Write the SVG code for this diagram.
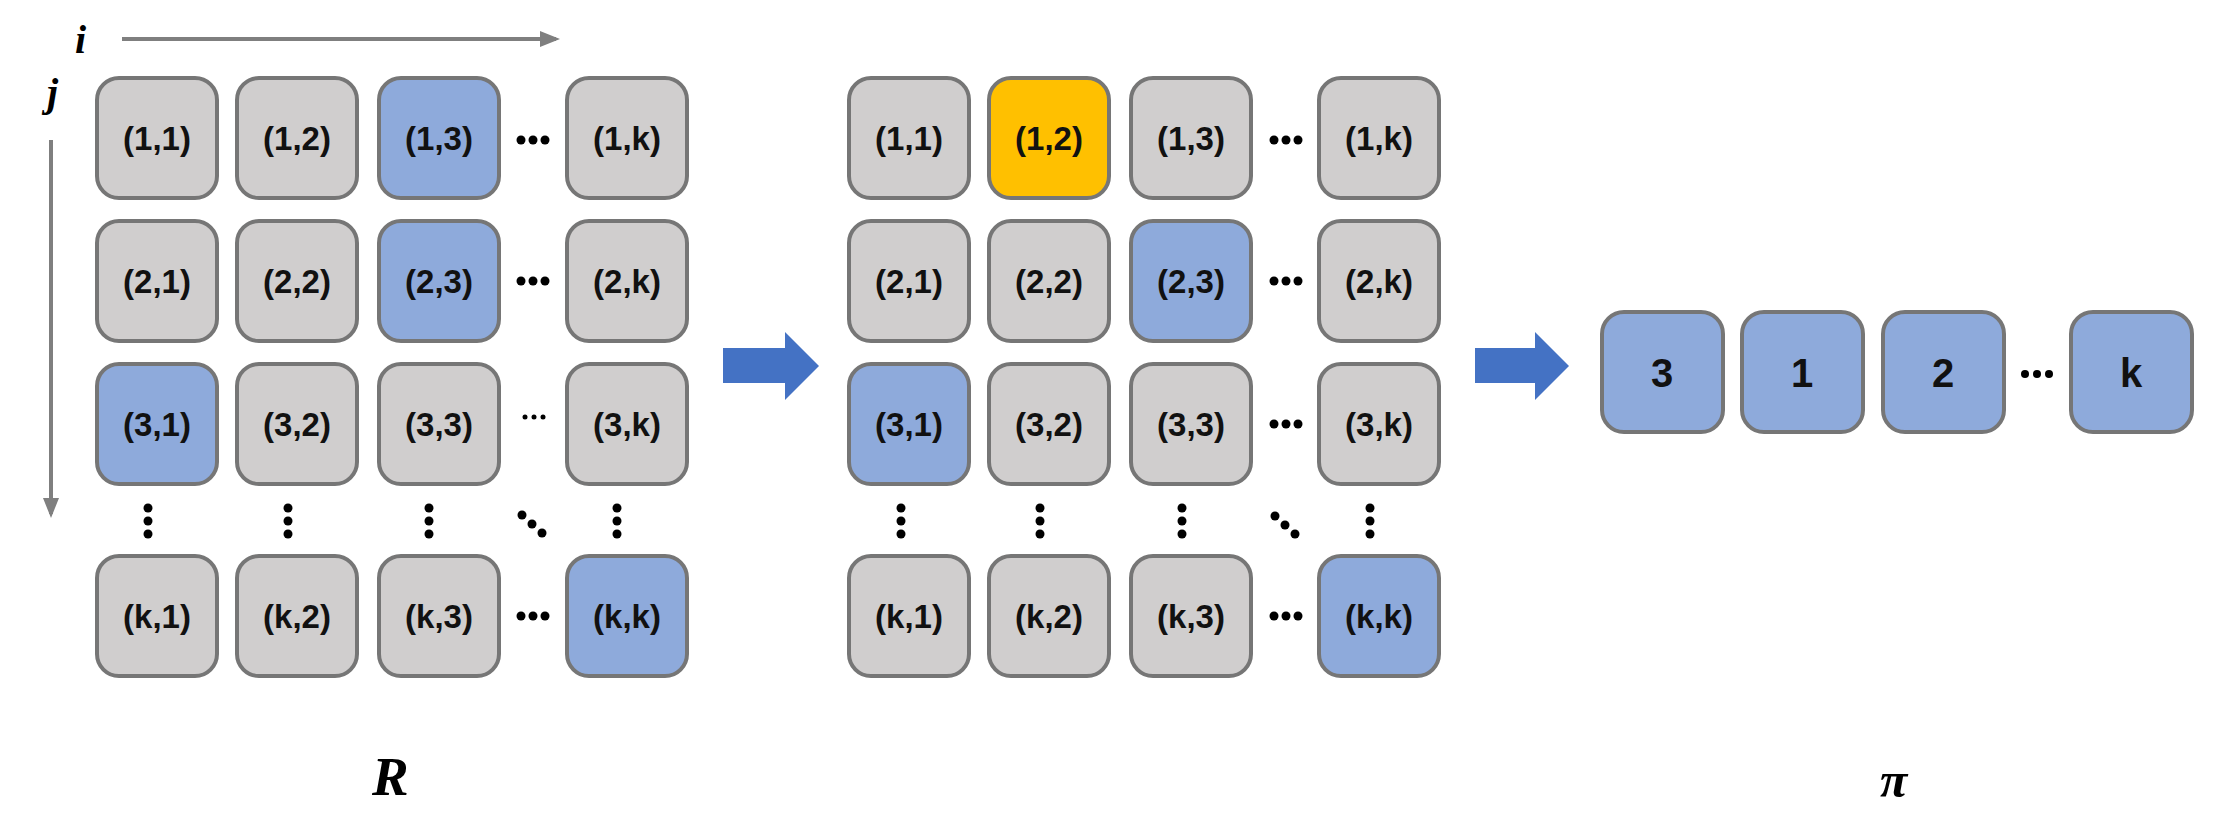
<svg xmlns="http://www.w3.org/2000/svg" width="2222" height="816" viewBox="0 0 2222 816">
<style>
.b{stroke:#767676;stroke-width:4}
.g{fill:#d0cece}
.u{fill:#8eaadb}
.y{fill:#ffc000}
.t{font-family:"Liberation Sans",Arial,sans-serif;font-weight:bold;font-size:33px;fill:#111;text-anchor:middle}
.n{font-family:"Liberation Sans",Arial,sans-serif;font-weight:bold;font-size:40px;fill:#111;text-anchor:middle}
.m{font-family:"Liberation Serif","Times New Roman",serif;font-weight:bold;font-style:italic;fill:#000}
.ax{stroke:#7f7f7f;stroke-width:4;fill:none}
.d{fill:#000}
.bl{fill:#4472c4}
</style>
<defs>
<marker id="ah" markerWidth="5" markerHeight="4" refX="4" refY="2" orient="auto" markerUnits="strokeWidth"><path d="M0,0 L5,2 L0,4 Z" fill="#7f7f7f"/></marker>
<symbol id="dh" overflow="visible"><circle cx="-12" cy="0" r="4.5"/><circle cx="0" cy="0" r="4.5"/><circle cx="12" cy="0" r="4.5"/></symbol>
<symbol id="dv" overflow="visible"><circle cx="0" cy="-13" r="4.5"/><circle cx="0" cy="0" r="4.5"/><circle cx="0" cy="13" r="4.5"/></symbol>
<symbol id="dd" overflow="visible"><circle cx="-10" cy="-9" r="4.5"/><circle cx="0" cy="0" r="4.5"/><circle cx="10" cy="9" r="4.5"/></symbol>
</defs>
<rect width="2222" height="816" fill="#fff"/>

<g id="connectors">
<line class="ax" x1="122" y1="39" x2="556" y2="39" marker-end="url(#ah)"/>
<line class="ax" x1="51" y1="140" x2="51" y2="514" marker-end="url(#ah)"/>
<path class="bl" d="M723,348 H785 V332 L819,366 L785,400 V383 H723 Z"/>
<path class="bl" d="M1475,348 H1535 V332 L1569,366 L1535,400 V383 H1475 Z"/>
</g>

<g id="labels">
<text class="m" x="75" y="53" font-size="40">i</text>
<text class="m" x="47" y="106" font-size="40">j</text>
<text class="m" x="372" y="795" font-size="55">R</text>
<text class="m" x="1880" y="797" font-size="50">π</text>
</g>

<g id="matrixR">
<g id="R11"><rect class="b g" x="97" y="78" width="120" height="120" rx="22"/><text class="t" x="157" y="150">(1,1)</text></g>
<g id="R12"><rect class="b g" x="237" y="78" width="120" height="120" rx="22"/><text class="t" x="297" y="150">(1,2)</text></g>
<g id="R13"><rect class="b u" x="379" y="78" width="120" height="120" rx="22"/><text class="t" x="439" y="150">(1,3)</text></g>
<g id="R1k"><rect class="b g" x="567" y="78" width="120" height="120" rx="22"/><text class="t" x="627" y="150">(1,k)</text></g>
<g id="R21"><rect class="b g" x="97" y="221" width="120" height="120" rx="22"/><text class="t" x="157" y="293">(2,1)</text></g>
<g id="R22"><rect class="b g" x="237" y="221" width="120" height="120" rx="22"/><text class="t" x="297" y="293">(2,2)</text></g>
<g id="R23"><rect class="b u" x="379" y="221" width="120" height="120" rx="22"/><text class="t" x="439" y="293">(2,3)</text></g>
<g id="R2k"><rect class="b g" x="567" y="221" width="120" height="120" rx="22"/><text class="t" x="627" y="293">(2,k)</text></g>
<g id="R31"><rect class="b u" x="97" y="364" width="120" height="120" rx="22"/><text class="t" x="157" y="436">(3,1)</text></g>
<g id="R32"><rect class="b g" x="237" y="364" width="120" height="120" rx="22"/><text class="t" x="297" y="436">(3,2)</text></g>
<g id="R33"><rect class="b g" x="379" y="364" width="120" height="120" rx="22"/><text class="t" x="439" y="436">(3,3)</text></g>
<g id="R3k"><rect class="b g" x="567" y="364" width="120" height="120" rx="22"/><text class="t" x="627" y="436">(3,k)</text></g>
<g id="Rk1"><rect class="b g" x="97" y="556" width="120" height="120" rx="22"/><text class="t" x="157" y="628">(k,1)</text></g>
<g id="Rk2"><rect class="b g" x="237" y="556" width="120" height="120" rx="22"/><text class="t" x="297" y="628">(k,2)</text></g>
<g id="Rk3"><rect class="b g" x="379" y="556" width="120" height="120" rx="22"/><text class="t" x="439" y="628">(k,3)</text></g>
<g id="Rkk"><rect class="b u" x="567" y="556" width="120" height="120" rx="22"/><text class="t" x="627" y="628">(k,k)</text></g>
<g id="Rdots" class="d">
<use href="#dh" x="533" y="140"/>
<use href="#dh" x="533" y="281"/>
<circle cx="525" cy="417" r="2.5"/><circle cx="534" cy="417" r="2.5"/><circle cx="543" cy="417" r="2.5"/>
<use href="#dh" x="533" y="616"/>
<use href="#dv" x="148" y="521"/>
<use href="#dv" x="288" y="521"/>
<use href="#dv" x="429" y="521"/>
<use href="#dd" x="532" y="524"/>
<use href="#dv" x="617" y="521"/>
</g>
</g>

<g id="matrixM">
<g id="M11"><rect class="b g" x="849" y="78" width="120" height="120" rx="22"/><text class="t" x="909" y="150">(1,1)</text></g>
<g id="M12"><rect class="b y" x="989" y="78" width="120" height="120" rx="22"/><text class="t" x="1049" y="150">(1,2)</text></g>
<g id="M13"><rect class="b g" x="1131" y="78" width="120" height="120" rx="22"/><text class="t" x="1191" y="150">(1,3)</text></g>
<g id="M1k"><rect class="b g" x="1319" y="78" width="120" height="120" rx="22"/><text class="t" x="1379" y="150">(1,k)</text></g>
<g id="M21"><rect class="b g" x="849" y="221" width="120" height="120" rx="22"/><text class="t" x="909" y="293">(2,1)</text></g>
<g id="M22"><rect class="b g" x="989" y="221" width="120" height="120" rx="22"/><text class="t" x="1049" y="293">(2,2)</text></g>
<g id="M23"><rect class="b u" x="1131" y="221" width="120" height="120" rx="22"/><text class="t" x="1191" y="293">(2,3)</text></g>
<g id="M2k"><rect class="b g" x="1319" y="221" width="120" height="120" rx="22"/><text class="t" x="1379" y="293">(2,k)</text></g>
<g id="M31"><rect class="b u" x="849" y="364" width="120" height="120" rx="22"/><text class="t" x="909" y="436">(3,1)</text></g>
<g id="M32"><rect class="b g" x="989" y="364" width="120" height="120" rx="22"/><text class="t" x="1049" y="436">(3,2)</text></g>
<g id="M33"><rect class="b g" x="1131" y="364" width="120" height="120" rx="22"/><text class="t" x="1191" y="436">(3,3)</text></g>
<g id="M3k"><rect class="b g" x="1319" y="364" width="120" height="120" rx="22"/><text class="t" x="1379" y="436">(3,k)</text></g>
<g id="Mk1"><rect class="b g" x="849" y="556" width="120" height="120" rx="22"/><text class="t" x="909" y="628">(k,1)</text></g>
<g id="Mk2"><rect class="b g" x="989" y="556" width="120" height="120" rx="22"/><text class="t" x="1049" y="628">(k,2)</text></g>
<g id="Mk3"><rect class="b g" x="1131" y="556" width="120" height="120" rx="22"/><text class="t" x="1191" y="628">(k,3)</text></g>
<g id="Mkk"><rect class="b u" x="1319" y="556" width="120" height="120" rx="22"/><text class="t" x="1379" y="628">(k,k)</text></g>
<g id="Mdots" class="d">
<use href="#dh" x="1286" y="140"/>
<use href="#dh" x="1286" y="281"/>
<use href="#dh" x="1286" y="424"/>
<use href="#dh" x="1286" y="616"/>
<use href="#dv" x="901" y="521"/>
<use href="#dv" x="1040" y="521"/>
<use href="#dv" x="1182" y="521"/>
<use href="#dd" x="1285" y="525"/>
<use href="#dv" x="1370" y="521"/>
</g>
</g>

<g id="pi">
<g id="P1"><rect class="b u" x="1602" y="312" width="121" height="120" rx="22"/><text class="n" x="1662" y="387">3</text></g>
<g id="P2"><rect class="b u" x="1742" y="312" width="121" height="120" rx="22"/><text class="n" x="1802" y="387">1</text></g>
<g id="P3"><rect class="b u" x="1883" y="312" width="121" height="120" rx="22"/><text class="n" x="1943" y="387">2</text></g>
<g id="Pk"><rect class="b u" x="2071" y="312" width="121" height="120" rx="22"/><text class="n" x="2131" y="387">k</text></g>
<g id="Pdots" class="d"><circle cx="2025" cy="374" r="4"/><circle cx="2037" cy="374" r="4"/><circle cx="2049" cy="374" r="4"/></g>
</g>
</svg>
